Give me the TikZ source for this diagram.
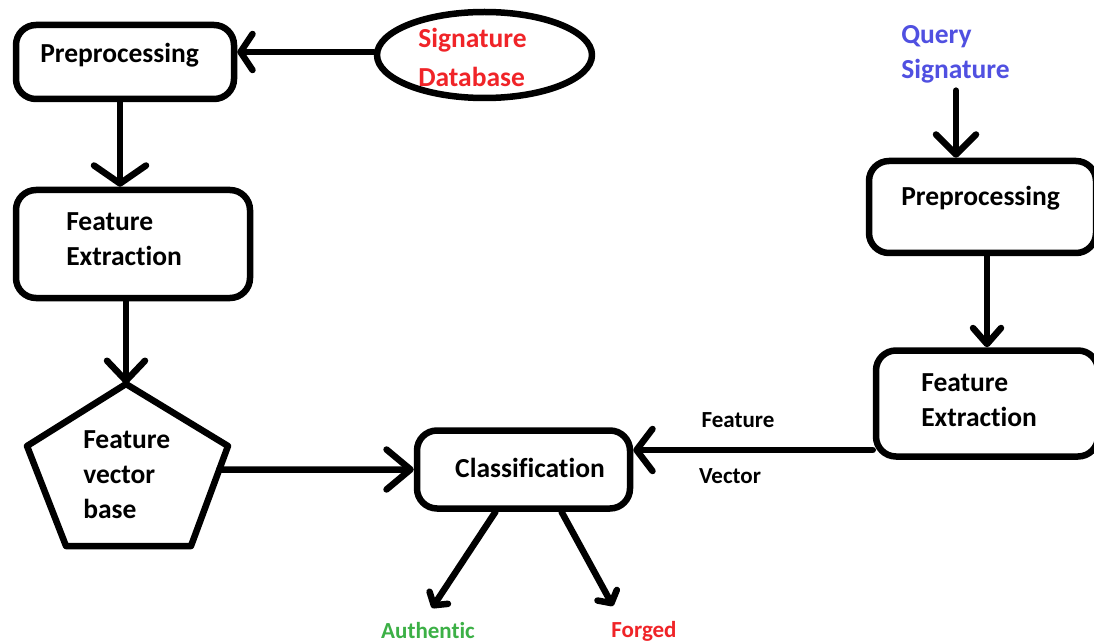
\documentclass[tikz,border=0pt]{standalone}
\usepackage{fontspec}
\setmainfont{Carlito}[Ligatures={NoCommon,NoRare,NoContextual}]
\usetikzlibrary{arrows.meta,calc,shapes.geometric}
\definecolor{sigred}{RGB}{240,36,40}
\definecolor{qblue}{RGB}{80,80,225}
\definecolor{agreen}{RGB}{60,176,70}
\begin{document}
\begin{tikzpicture}[x=1pt,y=-1pt,line width=6.5pt,line cap=round,line join=round,
  box/.style={draw,rounded corners=20pt,inner sep=0pt},
  txt/.style={font=\fontsize{27.5}{35}\selectfont\bfseries,inner sep=0pt,align=left},
  small/.style={font=\fontsize{23}{28}\selectfont\bfseries,inner sep=0pt},
  arr/.style={-{Straight Barb[length=#1,round]}},
  arr/.default={16pt,width=44pt}]
\useasboundingbox (0,0) rectangle (1094,644);
\fill[white] (0,0) rectangle (1094,644);
% left column
\node[box,minimum width=218pt,minimum height=74pt] (pre1) at (125,62) {};
\node[txt,anchor=west] (tpre1) at (37,55) {Preprocessing};
\node[draw,ellipse,minimum width=215pt,minimum height=86pt,inner sep=0pt] (db) at (484.5,55) {};
\node[txt,anchor=west,text=sigred,font=\fontsize{27.5}{39}\selectfont\bfseries] (tdb) at (415,57.5) {Signature\\Database};
\node[box,minimum width=234pt,minimum height=108pt] (fe1) at (133,244) {};
\node[txt,anchor=west] (tfe1) at (63,239.5) {Feature\\Extraction};
\coordinate (ptop) at (126,384);
\coordinate (pul) at (27,446);
\coordinate (pur) at (228,446);
\coordinate (pbl) at (66,546);
\coordinate (pbr) at (191,546);
\draw (ptop) -- (pur) -- (pbr) -- (pbl) -- (pul) -- cycle;
\node[txt,anchor=west] (tpent) at (80,475) {Feature\\vector\\base};
\node[box,minimum width=213pt,minimum height=78pt] (cls) at (523.5,469.5) {};
\node[txt] (tcls) at (530,468) {Classification};
% right column
\node[txt,anchor=west,text=qblue] (tq) at (898,54.5) {Query\\Signature};
\node[box,minimum width=227pt,minimum height=92pt] (pre2) at (982.5,207) {};
\node[txt,anchor=west] (tpre2) at (898,198) {Preprocessing};
\node[box,minimum width=222pt,minimum height=106pt] (fe2) at (987,403.5) {};
\node[txt,anchor=west] (tfe2) at (918,400.5) {Feature\\Extraction};
\node[small] (lfeat) at (738,420) {Feature};
\node[small] (lvec) at (730,476) {Vector};
\node[small,text=agreen] (lauth) at (428,631) {Authentic};
\node[small,text=sigred] (lforg) at (644,631) {Forged};
\coordinate (atip) at (432,608);
\coordinate (ftip) at (613,606);
% connectors
\draw[arr={12pt,width=36pt}] (db.west |- 0,52) -- (pre1.east |- 0,52);
\draw[arr={18pt,width=52pt}] (pre1.south -| 120,0) -- (fe1.north -| 120,0);
\draw[arr={20pt,width=38pt}] (fe1.south -| 126,0) -- (ptop);
\draw[arr={24pt,width=40pt}] ($(pur)!0.235!(pbr)$) -- (cls.west);
\draw[arr={16pt,width=42pt}] (fe2.west |- 0,450) -- (cls.east |- 0,450);
\draw[arr={20pt,width=40pt}] (tq.south -| 956,0) ++(0,4) -- (pre2.north -| 956,0);
\draw[arr={16pt,width=28pt}] (pre2.south -| 987,0) -- (fe2.north -| 987,0);
\draw[arr={9pt,width=22pt}] ($(cls.south)+(-28,0)$) -- (atip);
\draw[arr={9pt,width=22pt}] ($(cls.south)+(38,0)$) -- (ftip);
\end{tikzpicture}
\end{document}
